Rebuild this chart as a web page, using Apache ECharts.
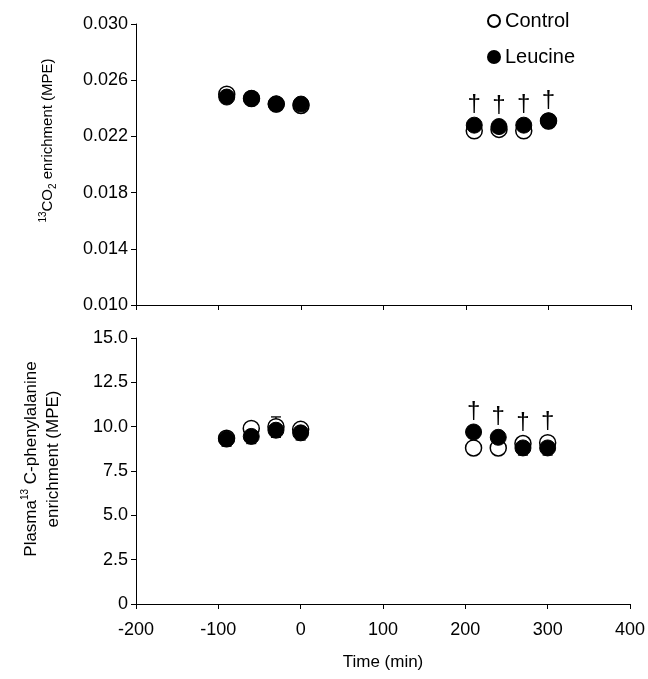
<!DOCTYPE html>
<html>
<head>
<meta charset="utf-8">
<script src="https://cdn.jsdelivr.net/npm/echarts@6/dist/echarts.min.js"></script>
<style>
  html, body { margin: 0; padding: 0; background: #fff; }
  #chart { width: 648px; height: 679px; }
</style>
</head>
<body>
<div id="chart"></div>
<script>
// time points (min)
const times = [-90, -60, -30, 0, 210, 240, 270, 300];
// times marked with a dagger
const sigTimes = [210, 240, 270, 300];

// 13CO2 enrichment (MPE)
const co2Control = [0.0250, 0.0247, 0.0243, 0.0242, 0.0224, 0.0225, 0.0224, 0.0231];
const co2ControlErr = [0.0002, 0.0002, 0.0001, 0.0002, 0.0002, 0.0002, 0.0002, 0.0001];
const co2Leucine = [0.0248, 0.0247, 0.0243, 0.0243, 0.0228, 0.0227, 0.0228, 0.0231];
const co2LeucineErr = [0.0002, 0.0001, 0.0001, 0.0002, 0.0001, 0.0002, 0.0001, 0.0001];

// plasma 13C-phenylalanine enrichment (MPE)
const pheControl = [9.35, 9.9, 10.0, 9.85, 8.8, 8.8, 9.05, 9.1];
const pheControlErr = [0.3, 0.3, 0.55, 0.3, 0.3, 0.3, 0.3, 0.3];
const pheLeucine = [9.3, 9.45, 9.8, 9.65, 9.7, 9.4, 8.8, 8.8];
const pheLeucineErr = [0.4, 0.4, 0.4, 0.4, 0.3, 0.3, 0.4, 0.4];

// axis ticks
const xTicks = { min: -200, max: 400, interval: 100 };
const co2Ticks = { min: 0.010, max: 0.030, interval: 0.004 };
const pheTicks = { min: 0, max: 15, interval: 2.5 };

const FONT = 'Liberation Sans, Arial, sans-serif';

let myChart = echarts.init(document.getElementById('chart'));

function withErr(vals, errs) {
  return times.map((t, i) => [t, vals[i], errs[i]]);
}
function sigPoints(a, b) {
  return sigTimes.map(t => {
    let i = times.indexOf(t);
    return [t, Math.max(a[i], b[i])];
  });
}

// error bar with caps
function errRender(params, api) {
  let x = api.value(0), y = api.value(1), e = api.value(2);
  let hi = api.coord([x, y + e]);
  let lo = api.coord([x, y - e]);
  let w = 5;
  let st = { stroke: '#000', lineWidth: 1.3 };
  return {
    type: 'group',
    children: [
      { type: 'line', shape: { x1: hi[0], y1: hi[1], x2: lo[0], y2: lo[1] }, style: st },
      { type: 'line', shape: { x1: hi[0] - w, y1: hi[1], x2: hi[0] + w, y2: hi[1] }, style: st },
      { type: 'line', shape: { x1: lo[0] - w, y1: lo[1], x2: lo[0] + w, y2: lo[1] }, style: st }
    ]
  };
}

// dagger above the higher of the two points
function daggerRender(params, api) {
  let c = api.coord([api.value(0), api.value(1)]);
  return {
    type: 'text',
    x: c[0],
    y: c[1] - 9,
    style: {
      text: '\u2020',
      fontSize: 24,
      fontFamily: FONT,
      fill: '#000',
      align: 'center',
      verticalAlign: 'bottom'
    }
  };
}

function xAxisCfg(idx, showLabel) {
  return {
    gridIndex: idx,
    type: 'value',
    min: xTicks.min, max: xTicks.max, interval: xTicks.interval,
    name: showLabel ? 'Time (min)' : '',
    nameLocation: 'middle',
    nameGap: 50,
    nameTextStyle: { color: '#000', fontSize: 17, fontFamily: FONT },
    axisLine: { onZero: false, lineStyle: { color: '#000', width: 1 } },
    axisTick: { show: true, inside: false, length: 5, lineStyle: { color: '#000' } },
    axisLabel: { show: showLabel, color: '#000', fontSize: 18, fontFamily: FONT, margin: 17 },
    splitLine: { show: false }
  };
}

const supRich = {
  sup: { fontSize: 10, lineHeight: 10, verticalAlign: 'top', fontFamily: FONT, color: '#000' },
  sub: { fontSize: 10, lineHeight: 10, verticalAlign: 'bottom', fontFamily: FONT, color: '#000' }
};

let option = {
  animation: false,
  backgroundColor: '#fff',
  textStyle: { fontFamily: FONT },
  grid: [
    { left: 136, right: 17, top: 24, height: 281 },
    { left: 136, right: 17, top: 338, height: 266 }
  ],
  legend: {
    data: ['Control', 'Leucine'],
    orient: 'vertical',
    left: 482,
    top: 6,
    itemGap: 16,
    itemWidth: 12,
    itemHeight: 12,
    textStyle: { color: '#000', fontSize: 20, fontFamily: FONT }
  },
  xAxis: [xAxisCfg(0, false), xAxisCfg(1, true)],
  yAxis: [
    {
      gridIndex: 0,
      type: 'value',
      min: co2Ticks.min, max: co2Ticks.max, interval: co2Ticks.interval,
      name: '{sup|13}CO{sub|2} enrichment (MPE)',
      nameLocation: 'middle',
      nameGap: 78,
      nameTextStyle: { color: '#000', fontSize: 15, lineHeight: 20, fontFamily: FONT, rich: supRich, padding: [0, 0, 0, 48] },
      axisLine: { show: true, onZero: false, lineStyle: { color: '#000', width: 1 } },
      axisTick: { show: true, length: 5, lineStyle: { color: '#000' } },
      axisLabel: { color: '#000', fontSize: 18, fontFamily: FONT, margin: 8, formatter: v => v.toFixed(3) },
      splitLine: { show: false }
    },
    {
      gridIndex: 1,
      type: 'value',
      min: pheTicks.min, max: pheTicks.max, interval: pheTicks.interval,
      name: 'Plasma{sup|13} C-phenylalanine\nenrichment (MPE)',
      nameLocation: 'middle',
      nameGap: 72,
      nameTextStyle: { color: '#000', fontSize: 17, lineHeight: 22, fontFamily: FONT, rich: supRich, padding: [0, 0, 0, 24] },
      axisLine: { show: true, onZero: false, lineStyle: { color: '#000', width: 1 } },
      axisTick: { show: true, length: 5, lineStyle: { color: '#000' } },
      axisLabel: { color: '#000', fontSize: 18, fontFamily: FONT, margin: 8, formatter: v => v === 0 ? '0' : v.toFixed(1) },
      splitLine: { show: false }
    }
  ],
  series: [
    // top panel
    { name: 'ctlErr0', type: 'custom', xAxisIndex: 0, yAxisIndex: 0, renderItem: errRender, data: withErr(co2Control, co2ControlErr), encode: { x: 0, y: 1 } },
    {
      name: 'Control', type: 'scatter', xAxisIndex: 0, yAxisIndex: 0,
      symbol: 'circle', symbolSize: 16,
      itemStyle: { color: '#fff', borderColor: '#000', borderWidth: 1.5, opacity: 1 },
      data: times.map((t, i) => [t, co2Control[i]])
    },
    { name: 'leuErr0', type: 'custom', xAxisIndex: 0, yAxisIndex: 0, renderItem: errRender, data: withErr(co2Leucine, co2LeucineErr), encode: { x: 0, y: 1 } },
    {
      name: 'Leucine', type: 'scatter', xAxisIndex: 0, yAxisIndex: 0,
      symbol: 'circle', symbolSize: 16,
      itemStyle: { color: '#000', borderColor: '#000', borderWidth: 1, opacity: 1 },
      data: times.map((t, i) => [t, co2Leucine[i]])
    },
    { name: 'sig0', type: 'custom', xAxisIndex: 0, yAxisIndex: 0, renderItem: daggerRender, data: sigPoints(co2Control, co2Leucine), encode: { x: 0, y: 1 } },

    // bottom panel
    { name: 'ctlErr1', type: 'custom', xAxisIndex: 1, yAxisIndex: 1, renderItem: errRender, data: withErr(pheControl, pheControlErr), encode: { x: 0, y: 1 } },
    {
      name: 'Control', type: 'scatter', xAxisIndex: 1, yAxisIndex: 1,
      symbol: 'circle', symbolSize: 16,
      itemStyle: { color: '#fff', borderColor: '#000', borderWidth: 1.5, opacity: 1 },
      data: times.map((t, i) => [t, pheControl[i]])
    },
    { name: 'leuErr1', type: 'custom', xAxisIndex: 1, yAxisIndex: 1, renderItem: errRender, data: withErr(pheLeucine, pheLeucineErr), encode: { x: 0, y: 1 } },
    {
      name: 'Leucine', type: 'scatter', xAxisIndex: 1, yAxisIndex: 1,
      symbol: 'circle', symbolSize: 16,
      itemStyle: { color: '#000', borderColor: '#000', borderWidth: 1, opacity: 1 },
      data: times.map((t, i) => [t, pheLeucine[i]])
    },
    { name: 'sig1', type: 'custom', xAxisIndex: 1, yAxisIndex: 1, renderItem: daggerRender, data: sigPoints(pheControl, pheLeucine), encode: { x: 0, y: 1 } }
  ]
};

myChart.setOption(option, true);
</script>
</body>
</html>
